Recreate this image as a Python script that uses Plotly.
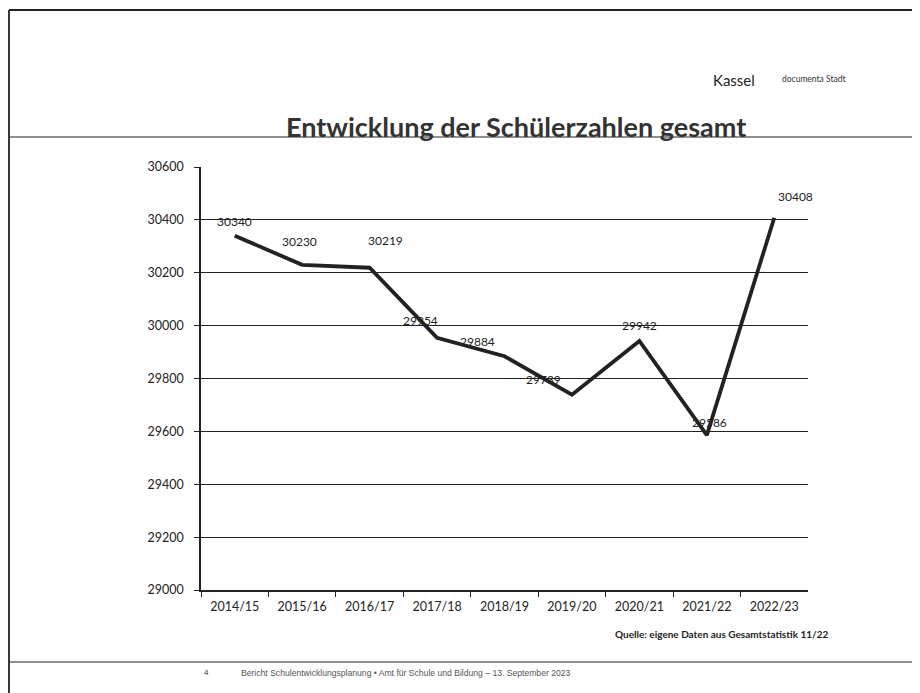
import plotly.graph_objects as go

categories = ["2014/15", "2015/16", "2016/17", "2017/18", "2018/19",
              "2019/20", "2020/21", "2021/22", "2022/23"]
values = [30340, 30230, 30219, 29954, 29884, 29739, 29942, 29586, 30408]
value_labels = ["30340", "30230", "30219", "29954", "29884", "29739", "29942", "29586", "30408"]
y_ticks = [29000, 29200, 29400, 29600, 29800, 30000, 30200, 30400, 30600]

# page is shown with the browser's default 8px body margin
OFF = 8
W, H = 920 - OFF, 693 - OFF
X0, X1 = 201, 808
Y0, Y1 = 167, 590

def fx(px):
    return (px - OFF) / W

def fy(py):
    return 1 - (py - OFF) / H

# label offsets (pixels) to mimic the original placement
label_shift = [(0, 14), (-3, 23), (16, 27), (-17, 17), (-27, 15), (-28, 15), (0, 15), (3, 13), (21, 21)]

fig = go.Figure()
fig.add_trace(go.Scatter(
    x=categories, y=values, mode="lines",
    line=dict(color="#222222", width=3.8),
    hoverinfo="x+y", showlegend=False,
))

annotations = []
for c, v, t, (dx, dy) in zip(categories, values, value_labels, label_shift):
    annotations.append(dict(
        x=c, y=v, xref="x", yref="y", text=t, showarrow=False,
        xshift=dx, yshift=dy,
        font=dict(family="Lato, sans-serif", size=12, color="#222222"),
    ))

annotations += [
    dict(x=fx(516), y=fy(127), xref="paper", yref="paper",
         text="Entwicklung der Schülerzahlen gesamt", showarrow=False,
         font=dict(family="Lato, sans-serif", size=27, color="#333333", weight="bold"),
         xanchor="center", yanchor="middle"),
    dict(x=fx(711), y=fy(80), xref="paper", yref="paper", text="Kassel", showarrow=False,
         font=dict(family="Lato, sans-serif", size=15, color="#222222"),
         xanchor="left", yanchor="middle"),
    dict(x=fx(780), y=fy(79), xref="paper", yref="paper", text="documenta Stadt", showarrow=False,
         font=dict(family="Lato, sans-serif", size=8.5, color="#333333"),
         xanchor="left", yanchor="middle"),
    dict(x=fx(613), y=fy(634), xref="paper", yref="paper",
         text="Quelle: eigene Daten aus Gesamtstatistik 11/22", showarrow=False,
         font=dict(family="Lato, sans-serif", size=10, color="#222222", weight="bold"),
         xanchor="left", yanchor="middle"),
    dict(x=fx(206), y=fy(672), xref="paper", yref="paper", text="4", showarrow=False,
         font=dict(family="Liberation Sans, sans-serif", size=8, color="#333333"),
         xanchor="center", yanchor="middle"),
    dict(x=fx(239), y=fy(673), xref="paper", yref="paper",
         text="Bericht Schulentwicklungsplanung • Amt für Schule und Bildung – 13. September 2023",
         showarrow=False,
         font=dict(family="Liberation Sans, sans-serif", size=8.6, color="#555555"),
         xanchor="left", yanchor="middle"),
]

line_col = "#222222"
shapes = [
    # outer frame top and left
    dict(type="line", xref="paper", yref="paper", x0=fx(9), x1=fx(920), y0=fy(10), y1=fy(10),
         line=dict(color=line_col, width=1.8)),
    dict(type="line", xref="paper", yref="paper", x0=fx(9), x1=fx(9), y0=fy(10), y1=fy(693),
         line=dict(color=line_col, width=1.8)),
    # header separator
    dict(type="line", xref="paper", yref="paper", x0=fx(10), x1=fx(920), y0=fy(137), y1=fy(137),
         line=dict(color=line_col, width=1.2)),
    # footer separator
    dict(type="line", xref="paper", yref="paper", x0=fx(10), x1=fx(920), y0=fy(662), y1=fy(662),
         line=dict(color=line_col, width=1.2)),
]

fig.update_layout(
    width=W, height=H,
    margin=dict(l=0, r=0, t=0, b=0, pad=0),
    paper_bgcolor="white", plot_bgcolor="white",
    annotations=annotations, shapes=shapes,
    xaxis=dict(
        domain=[fx(X0), fx(X1)], type="category", range=[-0.5, 8.5],
        showgrid=False, showline=True, linecolor=line_col, linewidth=1.5,
        ticks="outside", tickson="boundaries", ticklen=5, tickcolor=line_col, tickwidth=1.2,
        ticklabelstandoff=4,
        tickfont=dict(family="Lato, sans-serif", size=12.5, color="#222222"),
        automargin=False, zeroline=False, fixedrange=True,
    ),
    yaxis=dict(
        domain=[fy(Y1), fy(Y0)], range=[29000, 30600], tickvals=y_ticks,
        ticktext=[str(v) for v in y_ticks],
        showgrid=True, gridcolor=line_col, gridwidth=1.4,
        showline=True, linecolor=line_col, linewidth=1.5,
        ticks="outside", ticklen=5, tickcolor=line_col, tickwidth=1.2,
        ticklabelstandoff=8,
        tickfont=dict(family="Lato, sans-serif", size=12.5, color="#222222"),
        automargin=False, zeroline=False, fixedrange=True,
    ),
)

fig.write_html("out.html")
